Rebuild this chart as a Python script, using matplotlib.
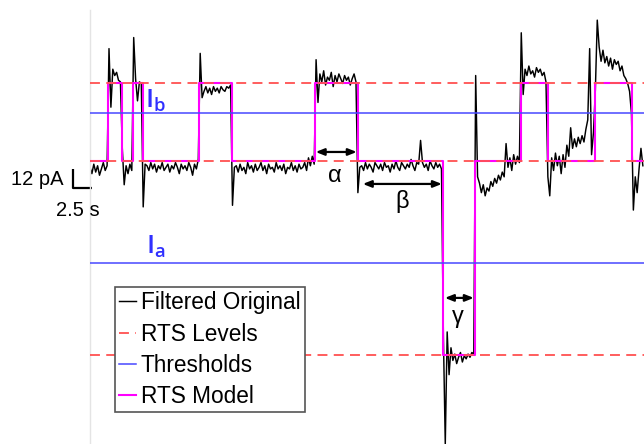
import numpy as np
import matplotlib
matplotlib.use("Agg")
import matplotlib.pyplot as plt

plt.rcParams['font.family'] = ['Liberation Sans', 'DejaVu Sans']

# ---------------- data ----------------
dt = 0.25  # sampling interval of filtered trace (s)
trace_pA = (
    [-4, -8, -2, -7, -3, -9, -5, -1, -6, -3]
    + [71, 34, 58, 54, 56, 51, 50]
    + [8, -15, -3, -8, -2, -6]
    + [78, 52, 38, 50, 49]
    + [-29, -2]
    + [-3, -6, -1, -5, -2, -7, -3, -5, -1, -6, -4, -2, -7, -3, -5, -1, -4, -8, -2, -5,
       -3, -6, -1, -4, -9, -2, -5, 1]
    + [68, 40, 44, 47, 43, 46, 42, 47, 44, 46, 43, 47, 45, 44, 47, 46, 48]
    + [-28, -4]
    + [-3, -7, -2, -6, -4, -8, -1, -5, -3, -7, -2, -6, -4, -1, -6, -3, -8, -2, -5, -4,
       -7, -1, -5, -3, -6, -2, -8, -4, -5, -1, -6, -3, -7, -2, -5, -4, -1, -6, 2, -3,
       3, -2]
    + [64, 37, 55, 50, 57, 48, 53, 51, 56, 47, 54, 50, 55, 52, 49, 54, 51, 53, 48, 52,
       55, 50]
    + [-20, -4]
    + [-3, -6, -1, -5, -2, -4, -7, -1, -3, -5, -2, -6, -1, -4, -3, -7, -2, -5, 0, -4,
       -6, -1, -3, -5, -2, -4, 1, -3, -6, -1, -2, 13, -1, -4, -2, -6, 0, -3, -5, -1,
       -4, -2, -5]
    + [-110, -179, -108, -135, -118]
    + [-126, -122, -128, -124, -121, -127, -123, -125, -122, -124, -121, -122]
    + [54, -10]
    + [-14, -20, -15, -22, -17, -19, -13, -16, -11, -14, -9, -12, -7, -10, 11]
    + [-4, 2, -6, 4, -2, 3, -1]
    + [81, 42, 58, 54, 60, 55, 57, 53, 59, 56, 58, 54, 56, 50]
    + [-10, -22]
    + [2, -6, 5, -3, 3, -8, 4, -4, 10, 3, 21, 8, 14, 9, 15, 11, 16, 12, 20, 26, 71, 4, 18]
    + [45, 89, 72, 63, 70, 62, 66, 60, 65, 58, 64, 61, 63, 57, 60, 54, 52, 49, 44]
    + [30, -31, -10, -20, -5, 8, -3]
)

rts_levels = [49.3, 0.0, -122.5]          # pA
thresholds = [30.3, -64.4]                # I_b, I_a (pA)
switch_times = [0, 2.37, 4.17, 5.62, 6.93, 14.38, 18.64, 29.6, 35.2, 46.4,
                50.66, 56.67, 60.22, 66.45, 71.28, 72.9]   # s
model_state = [1, 0, 1, 0, 1, 0, 1, 0, 1, 2, 1, 0, 1, 0, 1]  # index into rts_levels

legend_labels = ["Filtered Original", "RTS Levels", "Thresholds", "RTS Model"]

# ---------------- figure ----------------
fig = plt.figure(figsize=(6.44, 4.44), dpi=100)
ax = fig.add_axes([90 / 644, 0, 554 / 644, 434 / 444])

t = np.arange(len(trace_pA)) * dt
h_trace, = ax.plot(t, trace_pA, color='black', lw=1.05, zorder=2)

mx = np.repeat(switch_times, 2)[1:-1]
my = np.repeat([rts_levels[s] for s in model_state], 2)
h_model, = ax.plot(mx, my, color='#ff00ff', lw=1.5, zorder=3)

h_lev = None
for lv in rts_levels:
    h_lev, = ax.plot([0, 72.9], [lv, lv], color='#ff5050', lw=1.3,
                     dashes=(5.5, 3.5), zorder=4)
h_thr = None
for th in thresholds:
    h_thr, = ax.plot([0, 72.9], [th, th], color='#4848ff', lw=1.1, zorder=4)

ax.set_xlim(0, 72.9)
ax.set_ylim(-178.8, 95.4)
ax.set_xticks([])
ax.set_yticks([])
for s in ['top', 'right', 'bottom']:
    ax.spines[s].set_visible(False)
ax.spines['left'].set_color('#e4e4e4')
ax.spines['left'].set_linewidth(1.0)

# threshold labels
ax.text(8.6, 38.0, r'$\mathregular{I_b}$', color='#3030ff', fontsize=19,
        ha='center', va='center', family='Open Sans', weight='semibold')
ax.text(8.6, -54.0, r'$\mathregular{I_a}$', color='#3030ff', fontsize=19,
        ha='center', va='center', family='Open Sans', weight='semibold')

# dwell-time arrows
arrow_kw = dict(arrowstyle='<|-|>,head_length=0.5,head_width=0.2', color='black',
                lw=1.6, shrinkA=0, shrinkB=0)
ax.annotate('', xy=(29.7, 5.7), xytext=(35.1, 5.7), arrowprops=arrow_kw, zorder=6)
ax.text(32.2, -9.5, 'α', fontsize=17, ha='center', va='center')
ax.annotate('', xy=(35.9, -14.5), xytext=(46.3, -14.5), arrowprops=arrow_kw, zorder=6)
ax.text(41.05, -25.3, 'β', fontsize=17, ha='center', va='center')
ax.annotate('', xy=(46.7, -86.5), xytext=(50.5, -86.5), arrowprops=arrow_kw, zorder=6)
ax.text(48.4, -98.5, 'γ', fontsize=17, ha='center', va='center')

# scale bar (12 pA, 2.5 s)
ax.plot([-2.24, -2.24, 0.26], [-5.05, -17.05, -17.05], color='black', lw=1.6,
        clip_on=False, solid_capstyle='butt')
ax.text(-3.5, -12, '12 pA', fontsize=14.5, ha='right', va='center')
ax.text(-1.6, -31, '2.5 s', fontsize=14.5, ha='center', va='center')

leg = ax.legend([h_trace, h_lev, h_thr, h_model], legend_labels,
                loc='upper left', bbox_to_anchor=(0.045, 0.362), borderaxespad=0,
                fontsize=16.3, handlelength=0.75, handletextpad=0.2,
                labelspacing=0.36, borderpad=0.2, fancybox=False, framealpha=1)
leg.get_frame().set_edgecolor('#555555')
leg.get_frame().set_linewidth(1.2)

fig.savefig('out.png', dpi=100)
